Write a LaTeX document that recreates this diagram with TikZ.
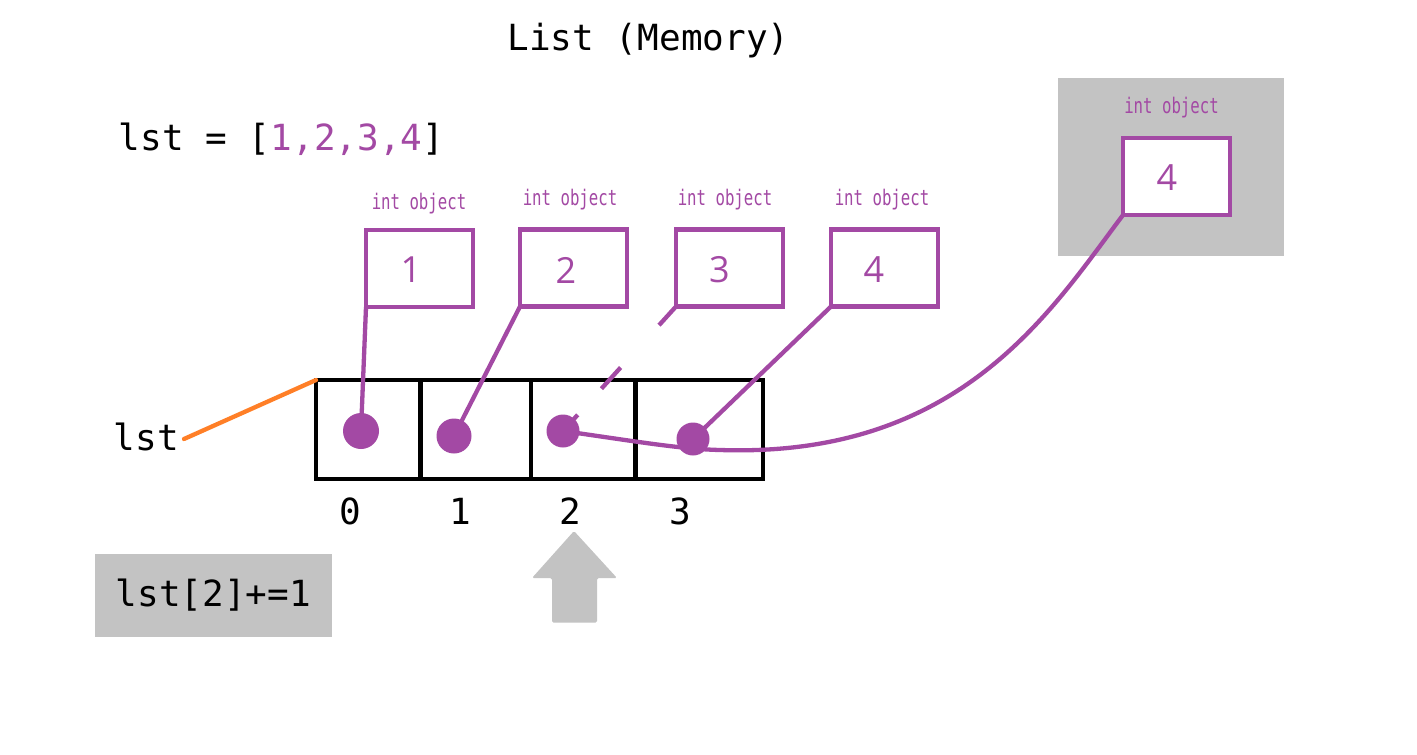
\documentclass[tikz,border=0pt]{standalone}
\usepackage{fontspec}
\setmainfont{Open Sans}
\setmonofont{DejaVu Sans Mono}
\newfontfamily\narrowfont[FakeStretch=0.73]{DejaVu Sans Mono}
\usetikzlibrary{calc}
\definecolor{pur}{RGB}{163,73,164}
\definecolor{gry}{RGB}{195,195,195}
\definecolor{org}{RGB}{255,127,39}
\begin{document}
\begin{tikzpicture}[x=1pt,y=-1pt,
  obj/.style={draw=pur, line width=4.5pt, fill=white, minimum width=107pt, minimum height=77pt, outer sep=0pt, inner sep=0pt},
  lbl/.style={font=\narrowfont\fontsize{21.5}{24}\selectfont, text=pur, inner sep=0pt},
  num/.style={font=\fontsize{36}{40}\selectfont, text=pur, inner sep=0pt},
  code/.style={font=\ttfamily\fontsize{36}{42}\selectfont, inner sep=0pt},
  dot/.style={circle, fill=pur, minimum size=34pt, inner sep=0pt},
  link/.style={draw=pur, line width=4.3pt},
  cell/.style={draw=black, line width=4.7pt, minimum height=99pt, outer sep=0pt, inner sep=0pt, anchor=north west},
]
\useasboundingbox (0,0) rectangle (1417,755);
\fill[white] (0,0) rectangle (1417,755);

% title and code
\node[code, anchor=base] (title) at (648.5,50) {List (Memory)};
\node[code, anchor=base] (assign) at (281.5,150) {lst = [\textcolor{pur}{1,2,3,4}]};

% gray area for new object
\fill[gry] (1058,78) rectangle (1284,256);
\node[lbl] (lg) at (1171.5,108) {int object};
\node[obj] (bg) at (1176.5,176.5) {};
\node[num] (ng) at ($(bg.center)+(-9.5,1.5)$) {4};

% int objects
\node[lbl] (l1) at (419,204) {int object};
\node[lbl] (l2) at (570,200) {int object};
\node[lbl] (l3) at (725,200) {int object};
\node[lbl] (l4) at (882,200) {int object};
\node[obj] (b1) at (419.5,268.5) {};
\node[obj] (b2) at (573.5,268) {};
\node[obj] (b3) at (729.5,268) {};
\node[obj] (b4) at (884.5,268) {};
\node[num] (n1) at ($(b1.center)+(-8.5,1.5)$) {1};
\node[num] (n2) at ($(b2.center)+(-7.5,2)$) {2};
\node[num] (n3) at ($(b3.center)+(-10,2)$) {3};
\node[num] (n4) at ($(b4.center)+(-10.5,2)$) {4};

% list cells
\node[cell, minimum width=104.5pt] (c0) at (316,380) {};
\node[cell, minimum width=110.5pt] (c1) at (420.5,380) {};
\node[cell, minimum width=104.5pt] (c2) at (531,380) {};
\node[cell, minimum width=127.5pt] (c3) at (635.5,380) {};

% indices
\node[code, anchor=base] (i0) at (350,524) {0};
\node[code, anchor=base] (i1) at (460,524) {1};
\node[code, anchor=base] (i2) at (570,524) {2};
\node[code, anchor=base] (i3) at (680,524) {3};

% variable name
\node[code, anchor=base] (lst) at (146.5,450) {lst};
\coordinate (ostart) at (184,439);
\draw[org, line width=4.3pt, line cap=round] (ostart) -- (c0.north west);

% dots (positions)
\coordinate (p0) at (361,431);
\coordinate (p1) at (454,436);
\coordinate (p2) at (563,431);
\coordinate (p3) at (693,439);

% connectors
\draw[link] (b1.south west) -- (p0);
\draw[link] (b2.south west) -- (p1);
\draw[link] (b3.south west) -- ($(b3.south west)!0.15!(p2)$);
\draw[link] ($(b3.south west)!0.49!(p2)$) -- ($(b3.south west)!0.66!(p2)$);
\draw[link] ($(b3.south west)!0.87!(p2)$) -- ($(b3.south west)!0.95!(p2)$);
\draw[link] (b4.south west) -- (p3);
\draw[link] (p2) .. controls (640,442) and (680,449) .. (720,450)
  .. controls (960,458) and (1050,312) .. (bg.south west);

\node[dot, minimum size=36pt] (d0) at (p0) {};
\node[dot, minimum size=35pt] (d1) at (p1) {};
\node[dot, minimum size=33pt] (d2) at (p2) {};
\node[dot, minimum size=33pt] (d3) at (p3) {};

% statement box
\node[code, fill=gry, minimum width=236.7pt, minimum height=82.7pt] (stmt) at (213.3,595.3) {lst[2]+=1};

% gray arrow
\fill[gry, rounded corners=1.5pt] (574,531) -- (617,578) -- (597,578) -- (597,622.5) -- (552,622.5) -- (552,578) -- (532,578) -- cycle;
\end{tikzpicture}
\end{document}
